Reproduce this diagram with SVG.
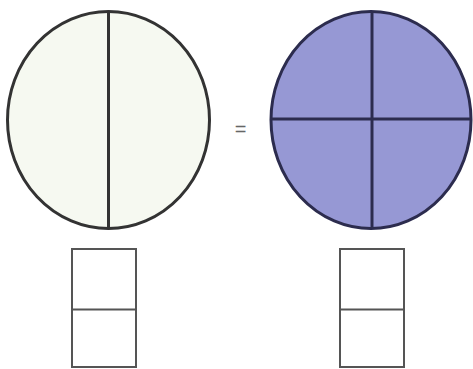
<svg xmlns="http://www.w3.org/2000/svg" width="473" height="369" viewBox="0 0 473 369">
<style>
.c{stroke-width:3}
.l{fill:none;stroke-width:3}
.b{fill:#fff;stroke:#555;stroke-width:2}
.bl{stroke:#555;stroke-width:2}
</style>
<rect width="473" height="369" fill="#fff"/>
<g id="left-circle">
<ellipse cx="108.5" cy="120" rx="101" ry="108.5" fill="#f6f9f1" stroke="#333" class="c"/>
<line x1="108.5" y1="11.5" x2="108.5" y2="228.5" stroke="#333" class="l"/>
</g>
<g id="equals">
<text x="240.5" y="136" font-family="Liberation Sans, sans-serif" font-size="20" fill="#666" text-anchor="middle">=</text>
</g>
<g id="right-circle">
<ellipse cx="371" cy="120" rx="100" ry="108.5" fill="#9698d4" stroke="#2c2c4e" class="c"/>
<line x1="372" y1="11.5" x2="372" y2="228.5" stroke="#2c2c4e" class="l"/>
<line x1="271" y1="119" x2="471" y2="119" stroke="#2c2c4e" class="l"/>
</g>
<g id="left-box">
<rect x="72" y="249" width="64" height="118" class="b"/>
<line x1="72" y1="309.5" x2="136" y2="309.5" class="bl"/>
</g>
<g id="right-box">
<rect x="340" y="249" width="64" height="118" class="b"/>
<line x1="340" y1="309.5" x2="404" y2="309.5" class="bl"/>
</g>
<g id="connectors"/>
</svg>
